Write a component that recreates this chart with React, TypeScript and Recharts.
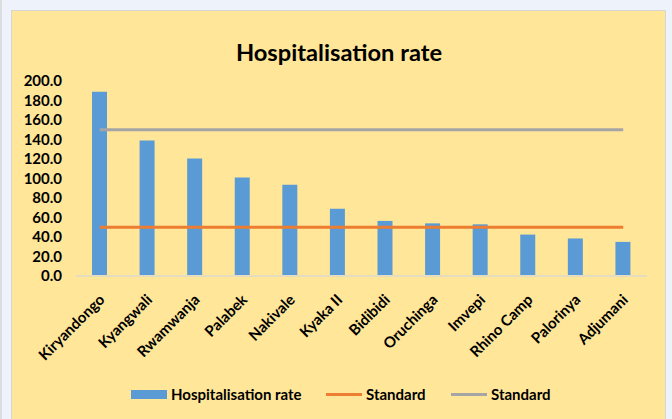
import React from "react";
import { ComposedChart, Bar, Line, XAxis, YAxis } from "recharts";

const camps = [
  "Kiryandongo", "Kyangwali", "Rwamwanja", "Palabek", "Nakivale", "Kyaka II",
  "Bidibidi", "Oruchinga", "Imvepi", "Rhino Camp", "Palorinya", "Adjumani",
];
const hospitalisationRate = [189, 139, 120.5, 101, 93.5, 69, 56.5, 54, 53, 42.5, 38.5, 35];
const standardLow = [50, 50, 50, 50, 50, 50, 50, 50, 50, 50, 50, 50];
const standardHigh = [150, 150, 150, 150, 150, 150, 150, 150, 150, 150, 150, 150];
const yTicks = [0, 20, 40, 60, 80, 100, 120, 140, 160, 180, 200];

const data = camps.map((name, i) => ({
  name,
  rate: hospitalisationRate[i],
  low: standardLow[i],
  high: standardHigh[i],
}));

const FONT = "Lato, 'Open Sans', sans-serif";
const BLUE = "#5B9BD5";
const ORANGE = "#ED7D31";
const GREY = "#A5A5A5";

const XTick = ({ x, y, payload }: any) => (
  <g transform={`translate(${x + 2},${y + 13})`}>
    <text
      textAnchor="end"
      transform="rotate(-45)"
      dy="0.35em"
      fontSize={15}
      fontWeight={700}
      fontFamily={FONT}
      fill="#000"
    >
      {payload.value}
    </text>
  </g>
);

const legendItems = [
  { label: "Hospitalisation rate", color: BLUE, kind: "bar", left: 131 },
  { label: "Standard", color: ORANGE, kind: "line", left: 326 },
  { label: "Standard", color: GREY, kind: "line", left: 451 },
];

export default function App() {
  return (
    <div
      style={{
        position: "absolute",
        left: 0,
        top: 0,
        width: 672,
        height: 419,
        background: "#EEF2FA",
        overflow: "hidden",
        fontFamily: FONT,
      }}
    >
      <div style={{ position: "absolute", left: 0, top: 0, width: 2, height: 419, background: "#DCDDE0" }} />
      <div
        style={{
          position: "absolute",
          left: 11,
          top: 10,
          width: 655,
          height: 420,
          background: "#FFE699",
          border: "1px solid #D6D6D6",
          boxSizing: "border-box",
        }}
      />
      <div
        style={{
          position: "absolute",
          left: 0,
          top: 38,
          width: 678,
          textAlign: "center",
          fontSize: 23.7,
          fontWeight: 700,
          lineHeight: "28px",
          color: "#000",
        }}
      >
        Hospitalisation rate
      </div>
      <div style={{ position: "absolute", left: 0, top: 0 }}>
        <ComposedChart
          width={672}
          height={419}
          data={data}
          margin={{ top: 81, right: 25, left: 0, bottom: 53 }}
          barCategoryGap="34%"
        >
          <XAxis
            dataKey="name"
            interval={0}
            height={90}
            tickLine={false}
            axisLine={{ stroke: "#E6DDC0", strokeWidth: 2 }}
            tick={<XTick />}
          />
          <YAxis
            width={76}
            domain={[0, 200]}
            ticks={yTicks}
            interval={0}
            tickFormatter={(v: number) => v.toFixed(1)}
            axisLine={false}
            tickLine={false}
            tickMargin={8}
            tick={{ fontSize: 15, fontWeight: 700, fill: "#000", fontFamily: FONT }}
          />
          <Bar dataKey="rate" name="Hospitalisation rate" fill={BLUE} barSize={15} isAnimationActive={false} />
          <Line dataKey="low" name="Standard" stroke={ORANGE} strokeWidth={3} dot={false} type="linear" isAnimationActive={false} />
          <Line dataKey="high" name="Standard" stroke={GREY} strokeWidth={3} dot={false} type="linear" isAnimationActive={false} />
        </ComposedChart>
      </div>
      {legendItems.map((item, i) => (
        <div
          key={i}
          style={{
            position: "absolute",
            left: item.left,
            top: 385,
            height: 18,
            display: "flex",
            alignItems: "center",
            fontSize: 15,
            fontWeight: 700,
            lineHeight: "18px",
            color: "#000",
            whiteSpace: "nowrap",
          }}
        >
          <div
            style={{
              width: 36,
              height: item.kind === "bar" ? 9 : 3,
              background: item.color,
              marginRight: 4,
            }}
          />
          <span>{item.label}</span>
        </div>
      ))}
    </div>
  );
}
